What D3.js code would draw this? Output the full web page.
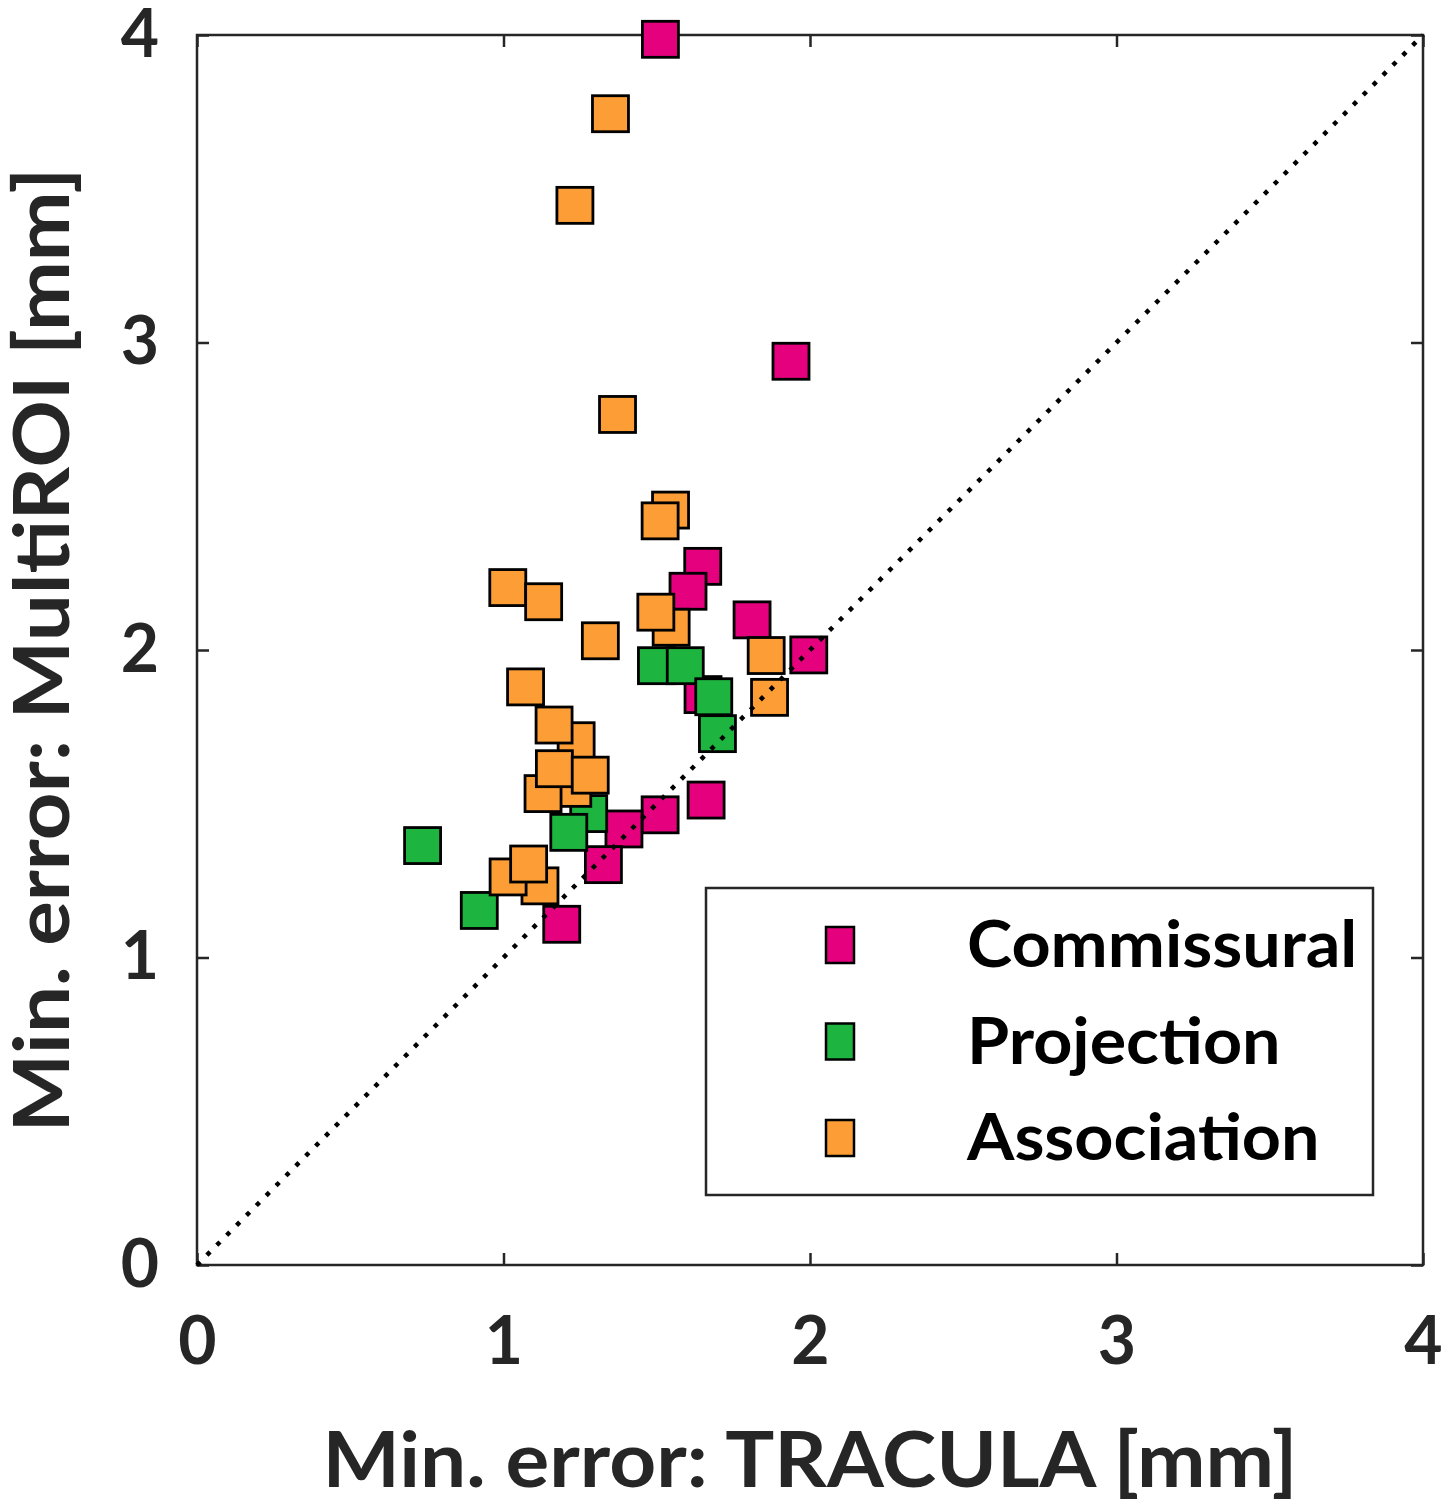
<!DOCTYPE html>
<html>
<head>
<meta charset="utf-8">
<script src="https://cdn.jsdelivr.net/npm/d3@7"></script>
<style>
  html, body { margin: 0; padding: 0; background: #fff; }
  svg { display: block; }
</style>
</head>
<body>
<script>
// ---- data ----
const seriesNames = ["Commissural", "Projection", "Association"];
const seriesColors = ["#e5007d", "#1db440", "#fd9d35"];

const commissuralX = [1.512, 1.938, 1.650, 1.602, 1.811, 1.996, 1.651, 1.661, 1.511, 1.393, 1.326, 1.190];
const commissuralY = [3.986, 2.939, 2.272, 2.191, 2.098, 1.984, 1.855, 1.512, 1.464, 1.418, 1.302, 1.108];

const projectionX = [1.499, 1.593, 1.686, 1.698, 1.278, 1.213, 0.736, 0.921];
const projectionY = [1.949, 1.949, 1.848, 1.728, 1.468, 1.407, 1.364, 1.153];

const associationX = [1.349, 1.233, 1.372, 1.545, 1.511, 1.014, 1.131, 1.547, 1.497, 1.316, 1.857, 1.868, 1.072, 1.237, 1.165, 1.226, 1.129, 1.166, 1.283, 1.119, 1.015, 1.082];
const associationY = [3.744, 3.446, 2.766, 2.455, 2.420, 2.203, 2.157, 2.074, 2.123, 2.030, 1.982, 1.846, 1.880, 1.705, 1.756, 1.550, 1.533, 1.614, 1.593, 1.233, 1.262, 1.304];

const xTicks = [0, 1, 2, 3, 4];
const yTicks = [0, 1, 2, 3, 4];
const xLabel = "Min. error: TRACULA [mm]";
const yLabel = "Min. error: MultiROI [mm]";

// ---- layout ----
const W = 1447, H = 1500;
const m = { left: 197, top: 35, right: 1447 - 1423, bottom: 1500 - 1265 };
const iw = W - m.left - m.right, ih = H - m.top - m.bottom;
const axisColor = "#262626";
const font = "Lato, 'Open Sans', sans-serif";

const svg = d3.select("body").append("svg").attr("width", W).attr("height", H);
const g = svg.append("g").attr("transform", `translate(${m.left},${m.top})`);

const x = d3.scaleLinear().domain([0, 4]).range([0, iw]);
const y = d3.scaleLinear().domain([0, 4]).range([ih, 0]);

// box frame
g.append("rect").attr("x", 0).attr("y", 0).attr("width", iw).attr("height", ih)
  .attr("fill", "none").attr("stroke", axisColor).attr("stroke-width", 2.5);

function styleAxis(sel, showLabels) {
  sel.select(".domain").remove();
  sel.selectAll(".tick line").attr("stroke", axisColor).attr("stroke-width", 2.5);
  sel.selectAll(".tick text")
    .attr("fill", axisColor)
    .style("font-family", font).style("font-weight", "bold").style("font-size", "66px");
  if (!showLabels) sel.selectAll(".tick text").remove();
}

g.append("g").attr("transform", `translate(0,${ih})`)
  .call(d3.axisBottom(x).tickValues(xTicks).tickFormat(d3.format("d")).tickSizeInner(-12).tickSizeOuter(0).tickPadding(52))
  .call(s => styleAxis(s, true));
g.append("g")
  .call(d3.axisTop(x).tickValues(xTicks).tickSizeInner(-12).tickSizeOuter(0))
  .call(s => styleAxis(s, false));
g.append("g")
  .call(d3.axisLeft(y).tickValues(yTicks).tickFormat(d3.format("d")).tickSizeInner(-12).tickSizeOuter(0).tickPadding(38))
  .call(s => styleAxis(s, true));
g.append("g").attr("transform", `translate(${iw},0)`)
  .call(d3.axisRight(y).tickValues(yTicks).tickSizeInner(-12).tickSizeOuter(0))
  .call(s => styleAxis(s, false));

// points
const series = [
  { xs: commissuralX, ys: commissuralY },
  { xs: projectionX, ys: projectionY },
  { xs: associationX, ys: associationY }
];
const S = 36;
series.forEach((s, i) => {
  const pts = s.xs.map((v, j) => [v, s.ys[j]]);
  g.append("g").selectAll("rect").data(pts).join("rect")
    .attr("x", d => x(d[0]) - S / 2)
    .attr("y", d => y(d[1]) - S / 2)
    .attr("width", S).attr("height", S)
    .attr("fill", seriesColors[i])
    .attr("stroke", "#000").attr("stroke-width", 2.8);
});

// identity line
g.append("line")
  .attr("x1", x(0)).attr("y1", y(0)).attr("x2", x(4)).attr("y2", y(4))
  .attr("stroke", "#000").attr("stroke-width", 4.5)
  .attr("stroke-dasharray", "4.5,9.5");

// legend
const lg = svg.append("g").attr("transform", "translate(706,888)");
lg.append("rect").attr("width", 667).attr("height", 307)
  .attr("fill", "#fff").attr("stroke", axisColor).attr("stroke-width", 2.5);
seriesNames.forEach((name, i) => {
  const cy = 57 + i * 96.5;
  lg.append("rect").attr("x", 134 - 14).attr("y", cy - 18).attr("width", 28).attr("height", 36)
    .attr("fill", seriesColors[i]).attr("stroke", "#000").attr("stroke-width", 2.5);
  lg.append("text")
    .attr("transform", `translate(261,${cy + 22}) scale(1.05,1)`)
    .attr("fill", "#000")
    .style("font-family", font).style("font-weight", "bold").style("font-size", "65px")
    .text(name);
});

// axis titles
svg.append("text")
  .attr("x", 810).attr("y", 1487).attr("text-anchor", "middle")
  .attr("textLength", 975).attr("lengthAdjust", "spacingAndGlyphs")
  .attr("fill", axisColor)
  .style("font-family", font).style("font-weight", "bold").style("font-size", "76px")
  .text(xLabel);
svg.append("text")
  .attr("transform", "translate(69,650) rotate(-90)")
  .attr("text-anchor", "middle")
  .attr("textLength", 965).attr("lengthAdjust", "spacingAndGlyphs")
  .attr("fill", axisColor)
  .style("font-family", font).style("font-weight", "bold").style("font-size", "76px")
  .text(yLabel);
</script>
</body>
</html>
